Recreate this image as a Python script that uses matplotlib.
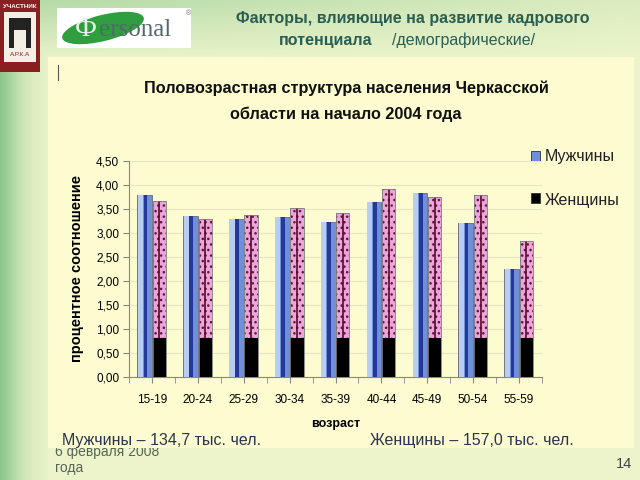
import numpy as np
import matplotlib.pyplot as plt
from matplotlib.patches import Rectangle, Ellipse

plt.rcParams['font.family'] = ['Liberation Sans', 'DejaVu Sans']

# Данные
ages = ['15-19', '20-24', '25-29', '30-34', '35-39', '40-44', '45-49', '50-54', '55-59']
men = [3.79, 3.35, 3.29, 3.33, 3.23, 3.65, 3.83, 3.21, 2.26]
women = [3.67, 3.29, 3.37, 3.52, 3.42, 3.92, 3.75, 3.79, 2.83]
yticks = [0.0, 0.5, 1.0, 1.5, 2.0, 2.5, 3.0, 3.5, 4.0, 4.5]
totals = ['Мужчины – 134,7 тыс. чел.', 'Женщины – 157,0 тыс. чел.']

W, H = 640, 480
fig = plt.figure(figsize=(6.4, 4.8), dpi=100)

# Фон слайда: зелёный градиент
bg = fig.add_axes([0, 0, 1, 1])
xx = np.linspace(0, 1, W)[None, :]
yy = np.linspace(0, 1, H)[:, None]
base = np.array([0.93, 0.96, 0.80])
green = np.array([0.55, 0.78, 0.55])
top_w = np.clip(1 - yy / 0.13, 0, 1) * (1 - 0.7 * xx)
left_w = np.clip(1 - xx / 0.08, 0, 1) * (0.75 + 0.25 * np.cos(xx * 60))
w = np.clip(np.maximum(top_w * 0.6, left_w), 0, 1)[..., None]
img = base * (1 - w) + green * w
bg.imshow(img, extent=[0, W, H, 0], aspect='auto', zorder=0)
bg.set_xlim(0, W)
bg.set_ylim(H, 0)
bg.axis('off')

# Подпись даты (частично перекрыта панелью)
bg.text(55, 456, '6 февраля 2008', fontsize=10, color='#556655', va='baseline', zorder=0.5)
bg.text(55, 472, 'года', fontsize=10, color='#556655', va='baseline', zorder=0.5)
bg.text(632, 468, '14', fontsize=10.5, color='#444444', va='baseline', ha='right')

# Панель диаграммы
bg.add_patch(Rectangle((48, 57), 586, 391, facecolor='#fdfbd0', edgecolor='none', zorder=1))
bg.plot([58, 58], [65, 80], color='#555555', lw=0.8, zorder=2)

# Логотип АРКА
bg.add_patch(Rectangle((0, 0), 40, 72, facecolor='#8a1f22', edgecolor='none', zorder=2))
bg.add_patch(Rectangle((4, 12), 32, 50, facecolor='#f2efe4', edgecolor='none', zorder=2))
bg.add_patch(Rectangle((9, 18), 22, 30, facecolor='#222222', edgecolor='none', zorder=2))
bg.add_patch(Rectangle((14, 30), 12, 18, facecolor='#f2efe4', edgecolor='none', zorder=2))
bg.text(20, 6, 'УЧАСТНИК', fontsize=4.5, color='white', ha='center', va='center',
        weight='bold', zorder=3)
bg.text(20, 55, 'А.Р.К.А', fontsize=4.5, color='#8a1f22', ha='center', va='center', zorder=3)

# Логотип Personal
bg.add_patch(Rectangle((57, 8), 134, 40, facecolor='white', edgecolor='none', zorder=2))
bg.add_patch(Ellipse((103, 28), 84, 26, angle=-14, facecolor='#2e9e3e', edgecolor='none',
                     zorder=2))
bg.text(86, 29, 'Ф', fontsize=20, family='Liberation Serif', color='#e8f0e8',
        va='center', ha='center', zorder=3)
bg.text(99, 30, 'ersonal', fontsize=18, family='Liberation Serif', color='#556670',
        va='center', ha='left', zorder=3)
bg.text(188, 14, '®', fontsize=5, color='#777777', ha='center', va='center', zorder=3)

# Заголовок слайда
tc = '#2b5e52'
bg.text(413, 23, 'Факторы, влияющие на развитие кадрового', fontsize=11.5,
        weight='bold', color=tc, ha='center', va='baseline', zorder=3)
bg.text(372, 45, 'потенциала', fontsize=11.5, weight='bold', color=tc,
        ha='right', va='baseline', zorder=3)
bg.text(392, 45, '/демографические/', fontsize=11.5, color=tc, ha='left',
        va='baseline', zorder=3)

# Заголовок диаграммы
bg.text(346, 88, 'Половозрастная структура населения Черкасской', fontsize=11.7,
        weight='bold', color='#111111', ha='center', va='center', zorder=3)
bg.text(346, 114, 'области на начало 2004 года', fontsize=11.7,
        weight='bold', color='#111111', ha='center', va='center', zorder=3)

# Итоги
bg.text(62, 440, totals[0], fontsize=11.5, color='#2a3550', va='center', zorder=3)
bg.text(370, 440, totals[1], fontsize=11.5, color='#2a3550', va='center', zorder=3)

# Диаграмма
ax = fig.add_axes([129 / W, 1 - 377 / H, (542 - 129) / W, (377 - 161) / H])
ax.set_facecolor('none')
x = np.arange(len(ages))
bw = 0.32

for i in x:
    # мужчины
    xm = i - bw / 2
    ax.bar(xm, men[i], bw, color='#6f8fd8', edgecolor='#6a6a7a', lw=0.6, zorder=3)
    ax.bar(xm - bw * 0.3, men[i], bw * 0.35, color='#b7cdf2', lw=0, zorder=4)
    ax.bar(xm + bw * 0.05, men[i], bw * 0.25, color='#24389a', lw=0, zorder=4)
    # женщины
    xw = i + bw / 2
    ax.bar(xw, women[i], bw * 0.9, color='#e9a6dc', edgecolor='#6b1035', hatch='...',
           lw=0, zorder=3)
    ax.bar(xw, 0.82, bw * 0.9, color='black', lw=0, zorder=4)
    ax.vlines(xw, 0.82, women[i], color='#5a0a25', lw=1.2, zorder=4)
    ax.bar(xw, women[i], bw * 0.9, fill=False, edgecolor='#7a7a7a', lw=0.6, zorder=5)

ax.set_xlim(-0.5, len(ages) - 0.5)
ax.set_ylim(0, 4.5)
ax.set_yticks(yticks)
ax.set_yticklabels([f'{v:.2f}'.replace('.', ',') for v in yticks], fontsize=8.5)
ax.set_xticks(x)
ax.set_xticklabels(ages, fontsize=8.5)
ax.set_xticks(np.arange(-0.5, len(ages)), minor=True)
ax.tick_params(axis='x', which='both', length=4, color='#888888', pad=8)
ax.tick_params(axis='y', length=4, color='#888888', pad=3)
ax.grid(axis='y', color='#e8e6c0', lw=0.8, zorder=0)
for s in ['top', 'right']:
    ax.spines[s].set_visible(False)
ax.spines['left'].set_color('#888888')
ax.spines['bottom'].set_color('#888888')
ax.set_ylabel('процентное соотношение', fontsize=10.5, weight='bold', labelpad=9)
ax.set_xlabel('возраст', fontsize=9, weight='bold', labelpad=9)

# Легенда
bg.add_patch(Rectangle((531, 151), 9, 10, facecolor='#6f8fd8', edgecolor='#333333', lw=0.6,
                       zorder=3))
bg.add_patch(Rectangle((531, 193), 9, 10, facecolor='black', edgecolor='#333333', lw=0.6,
                       zorder=3))
bg.text(545, 157, 'Мужчины', fontsize=11.5, color='#222222', va='center', zorder=3)
bg.text(545, 200, 'Женщины', fontsize=11.5, color='#222222', va='center', zorder=3)

fig.savefig('out.png', dpi=100)
